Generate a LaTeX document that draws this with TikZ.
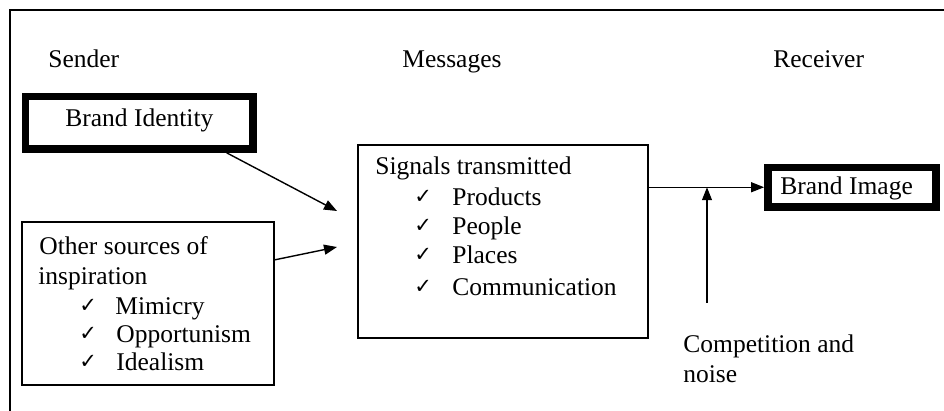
\documentclass[tikz,border=0pt]{standalone}
\usepackage{fontspec}
\setmainfont{Liberation Serif}
\newfontfamily\ticksym{DejaVu Sans}
\usetikzlibrary{arrows.meta,fit}

\begin{document}
\begin{tikzpicture}[x=0.5pt,y=-0.5pt,
  lbl/.style={anchor=base west, inner sep=0pt, font=\fontsize{12.75}{15}\selectfont},
  tickmark/.style={anchor=base west, inner sep=0pt, font=\ticksym\fontsize{10.5}{12}\selectfont},
  thinbox/.style={draw, line width=0.75pt, inner sep=0pt},
  thickbox/.style={draw, line width=3.9pt, inner sep=0pt},
  frame/.style={line width=0.75pt},
  arr/.style={line width=0.7pt, -{Triangle[length=6.5pt,width=5pt]}}]

\useasboundingbox (0,0) rectangle (944,411);

% outer frame (top and left edges)
\draw[frame] (10,411) -- (10,10) -- (944,10);

% column headings
\node[lbl] (hsend) at (48,68) {Sender};
\node[lbl] (hmsg)  at (402,68) {Messages};
\node[lbl] (hrec)  at (773,68) {Receiver};

% sender side
\node[thickbox, fit={(25.5,96.5) (253,149)}] (bi) {};
\node[lbl] (bitxt) at (65,127) {Brand Identity};

\node[thinbox, fit={(22,222) (274,385)}] (os) {};
\node[lbl] (os1) at (39,255) {Other sources of};
\node[lbl] (os2) at (38,285) {inspiration};
\node[tickmark] (osk1) at (79,313) {✓};
\node[tickmark] (osk2) at (79,341) {✓};
\node[tickmark] (osk3) at (79,369) {✓};
\node[lbl] (os3) at (115,315) {Mimicry};
\node[lbl] (os4) at (116,343) {Opportunism};
\node[lbl] (os5) at (116,371) {Idealism};

% messages
\node[thinbox, fit={(358,145) (648,338)}] (sig) {};
\node[lbl] (sg0) at (375,175) {Signals transmitted};
\node[tickmark] (sgk1) at (414,204) {✓};
\node[tickmark] (sgk2) at (414,233) {✓};
\node[tickmark] (sgk3) at (414,262) {✓};
\node[tickmark] (sgk4) at (414,294) {✓};
\node[lbl] (sg1) at (452,206) {Products};
\node[lbl] (sg2) at (452,235) {People};
\node[lbl] (sg3) at (452,264) {Places};
\node[lbl] (sg4) at (452,296) {Communication};

% receiver
\node[thickbox, fit={(768,167.5) (936,207)}] (bim) {};
\node[lbl] (bimtxt) at (780,195) {Brand Image};

% noise
\node[lbl] (cn1) at (683,353) {Competition and};
\node[lbl] (cn2) at (683,383) {noise};

% connectors
\coordinate (t1) at (337,211);
\coordinate (t2) at (337,247);
\coordinate (nz) at (707,303);
\draw[arr] (bi.-19) -- (t1);
\draw[arr] (os.19.4) -- (t2);
\draw[arr] (sig.east |- bim.west) -- (bim.west);
\draw[arr] (nz) -- (nz |- bim.west);

\end{tikzpicture}
\end{document}
